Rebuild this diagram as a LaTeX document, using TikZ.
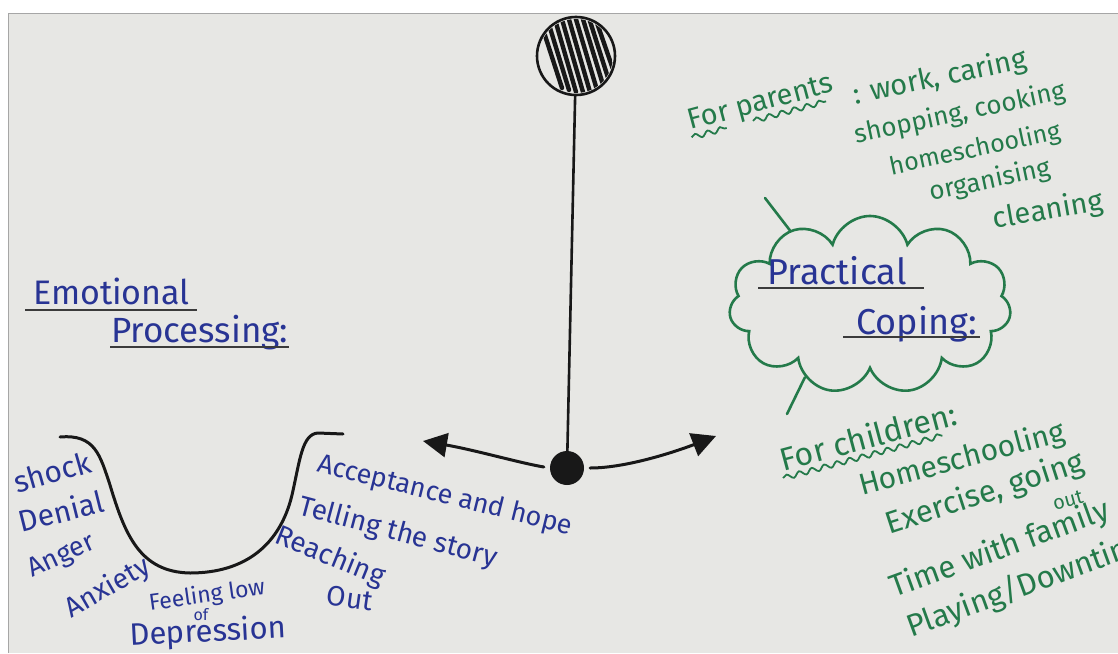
\documentclass[tikz,border=0pt]{standalone}
\usepackage{fontspec}
\setmainfont{Fira Sans}
\usetikzlibrary{arrows.meta,shapes.symbols,decorations.pathmorphing,calc}
\definecolor{board}{RGB}{231,231,228}
\definecolor{penblue}{RGB}{40,52,148}
\definecolor{pengreen}{RGB}{36,122,74}
\definecolor{ink}{RGB}{24,24,24}
\newcommand{\penfont}[1]{\fontsize{#1}{#1}\selectfont}
\begin{document}
\begin{tikzpicture}[x=1pt, y=-1pt,
    blue text/.style={text=penblue, inner sep=1pt},
    green text/.style={text=pengreen, inner sep=1pt},
    ink line/.style={draw=ink, line width=3pt, line cap=round},
    green line/.style={draw=pengreen, line width=2.6pt, line cap=round},
    under line/.style={draw=ink!85, line width=2pt},
    wavy line/.style={draw=pengreen, line width=1.8pt, decorate, decoration={snake, amplitude=2.5pt, segment length=13pt}},
    tip/.style={-{Triangle[length=24pt,width=24pt]}}]
    \useasboundingbox (0,0) rectangle (1118,653);
    \clip (0,0) rectangle (1118,653);
    \fill[white] (0,0) rectangle (1118,653);
    \fill[board] (8,13) rectangle (1118,653);
    \draw[gray!70, line width=1pt] (8,653) -- (8,13) -- (1118,13);

    % pendulum
    \node[circle, draw=ink, line width=2.6pt, minimum size=78pt, inner sep=0] (bob) at (576,56) {};
    \begin{scope}
        \clip (576,56) circle (37);
        \draw[ink, line width=4.4pt, line cap=round] (540,20) -- (562,88) (547,18) -- (569,90) (554,16) -- (576,92)
            (561,16) -- (583,92) (568,16) -- (590,92) (575,16) -- (597,90) (582,16) -- (604,88) (589,18) -- (610,84)
            (596,20) -- (616,78);
    \end{scope}
    \node[circle, fill=ink, minimum size=34pt, inner sep=0] (dot) at (567,468) {};
    \draw[ink line, line width=2.6pt] (bob) -- (dot);
    \coordinate (left tip) at (423,441);
    \coordinate (right tip) at (716,436);
    \draw[ink line, tip, shorten <=6pt] (dot.west) .. controls (520,463) and (475,450) .. (left tip);
    \draw[ink line, tip, shorten <=6pt] (dot.east) .. controls (628,468) and (680,450) .. (right tip);

    % emotional side
    \draw[ink line] (60,437) .. controls (95,434) and (100,455) .. (110,485)
        .. controls (125,535) and (140,572) .. (190,573)
        .. controls (245,573) and (280,545) .. (292,495)
        .. controls (300,460) and (302,434) .. (318,433) -- (343,434);
    \node[blue text, font=\penfont{34}, anchor=base west] (emotional) at (32,304) {Emotional};
    \draw[under line] ([xshift=-7pt, yshift=-6pt]emotional.base west) -- ([xshift=6pt, yshift=-6pt]emotional.base east);
    \node[blue text, font=\penfont{35}, anchor=base west] (processing) at (110,342) {Processing:};
    \draw[under line] ([yshift=-5pt]processing.base west) -- ([yshift=-5pt]processing.base east);
    \node[blue text, font=\penfont{30}, rotate=16] (shock) at (52,472) {shock};
    \node[blue text, font=\penfont{30}, rotate=14] (denial) at (61,511) {Denial};
    \node[blue text, font=\penfont{27}, rotate=25] (anger) at (62,557) {Anger};
    \node[blue text, font=\penfont{28}, rotate=30] (anxiety) at (108,588) {Anxiety};
    \node[blue text, font=\penfont{23}, rotate=8] (feeling) at (207,596) {Feeling low};
    \node[blue text, font=\penfont{16}] (of) at (201,615) {of};
    \node[blue text, font=\penfont{31}, rotate=3] (depression) at (208,633) {Depression};
    \node[blue text, font=\penfont{27}, rotate=-14] (acceptance) at (445,496) {Acceptance and hope};
    \node[blue text, font=\penfont{28}, rotate=-15] (telling) at (398,533) {Telling the story};
    \node[blue text, font=\penfont{28}, rotate=-22] (reaching) at (330,557) {Reaching};
    \node[blue text, font=\penfont{28}, rotate=-8] (reach out) at (350,598) {Out};

    % practical side
    \node[green text, font=\penfont{29}, rotate=15] (parents) at (761,104) {For parents};
    \draw[wavy line] ($(parents.south west)!0.0!(parents.south east)$) -- ($(parents.south west)!0.24!(parents.south east)$);
    \draw[wavy line] ($(parents.south west)!0.42!(parents.south east)$) -- ($(parents.south west)!0.92!(parents.south east)$);
    \node[green text, font=\penfont{29}, rotate=12] (work) at (940,78) {: work, caring};
    \node[green text, font=\penfont{26}, rotate=12] (shopping) at (960,114) {shopping, cooking};
    \node[green text, font=\penfont{25}, rotate=12] (homeschool) at (975,150) {homeschooling};
    \node[green text, font=\penfont{26}, rotate=12] (organising) at (990,181) {organising};
    \node[green text, font=\penfont{29}, rotate=10] (cleaning) at (1048,211) {cleaning};

    \node[cloud, cloud puffs=11, cloud ignores aspect, minimum width=282pt, minimum height=178pt,
        draw=pengreen, line width=2.6pt] (cloud) at (870,305) {};
    \coordinate (cloud top end) at (765,198);
    \coordinate (cloud bottom end) at (787,414);
    \draw[green line] (cloud.137) -- (cloud top end);
    \draw[green line] (cloud.228) -- (cloud bottom end);
    \node[blue text, font=\penfont{36}, anchor=base west] (practical) at (766,284) {Practical};
    \draw[under line] ([xshift=-8pt, yshift=-4pt]practical.base west) -- ([xshift=16pt, yshift=-4pt]practical.base east);
    \node[blue text, font=\penfont{36}, anchor=base west] (coping) at (855,334) {Coping:};
    \draw[under line] ([xshift=-12pt, yshift=-3pt]coping.base west) -- ([xshift=2pt, yshift=-3pt]coping.base east);

    \node[green text, font=\penfont{32}, rotate=15] (children) at (868,436) {For children:};
    \draw[wavy line] ([yshift=-5pt]$(children.south west)!0.0!(children.south east)$) -- ([yshift=-5pt]$(children.south west)!0.9!(children.south east)$);
    \node[green text, font=\penfont{30}, rotate=15] (homeschooling) at (962,460) {Homeschooling};
    \node[green text, font=\penfont{31}, rotate=18] (exercise) at (985,494) {Exercise, going};
    \node[green text, font=\penfont{20}, rotate=15] (going out) at (1068,500) {out};
    \node[green text, font=\penfont{31}, rotate=20] (family) at (1000,550) {Time with family};
    \node[green text, font=\penfont{31}, rotate=20, anchor=base west] (playing) at (910,638) {Playing/Downtime};
\end{tikzpicture}
\end{document}
